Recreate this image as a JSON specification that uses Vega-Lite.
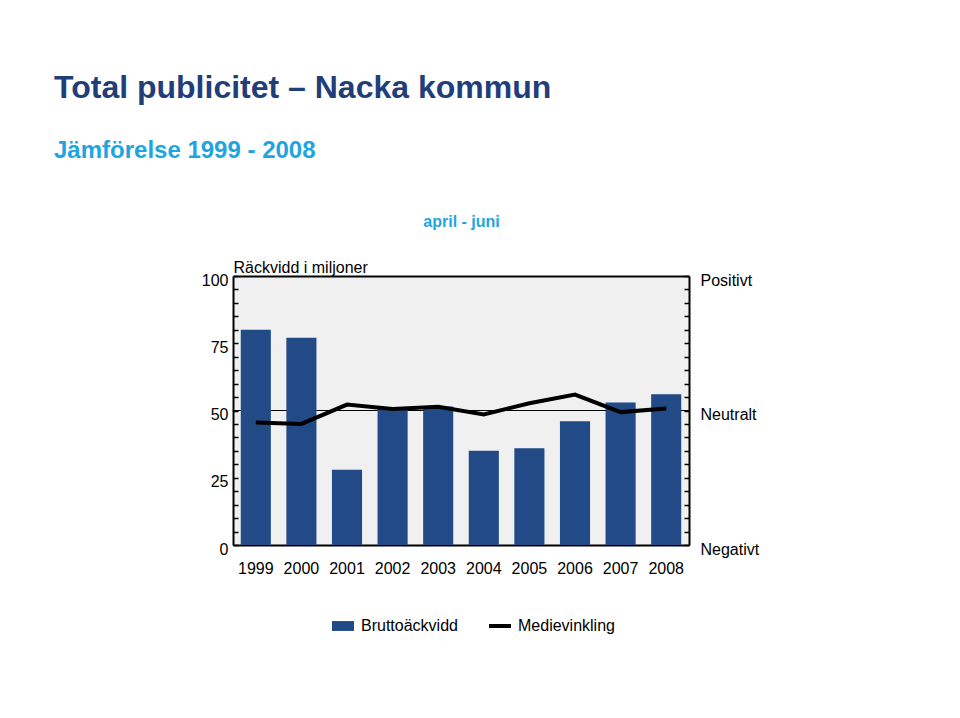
{
  "$schema": "https://vega.github.io/schema/vega-lite/v6.json",
  "width": 456,
  "height": 269,
  "autosize": {"type": "none"},
  "padding": {"left": 233, "top": 276, "right": 271, "bottom": 173},
  "background": "white",
  "config": {
    "font": "Liberation Sans",
    "view": {"fill": "#f0f0f0", "stroke": null},
    "axis": {
      "domainColor": "black",
      "domainWidth": 2,
      "tickColor": "black",
      "tickWidth": 1.5,
      "grid": false,
      "labelColor": "black",
      "labelFontSize": 16,
      "labelFont": "Liberation Sans"
    }
  },
  "title": {
    "text": "Total publicitet – Nacka kommun",
    "subtitle": "Jämförelse 1999 - 2008",
    "anchor": "start",
    "frame": "group",
    "dx": -179,
    "fontSize": 32,
    "fontWeight": "bold",
    "color": "#1F3E7A",
    "subtitleFontSize": 24,
    "subtitleFontWeight": "bold",
    "subtitleColor": "#1EA5DF",
    "subtitlePadding": 34,
    "offset": 49
  },
  "data": {
    "values": [
      {"year": "1999", "reach": 80, "tone": 45.5},
      {"year": "2000", "reach": 77, "tone": 45},
      {"year": "2001", "reach": 28, "tone": 52.2},
      {"year": "2002", "reach": 50.7, "tone": 50.6},
      {"year": "2003", "reach": 51.5, "tone": 51.4},
      {"year": "2004", "reach": 35, "tone": 48.5},
      {"year": "2005", "reach": 36, "tone": 52.7},
      {"year": "2006", "reach": 46, "tone": 55.9},
      {"year": "2007", "reach": 53, "tone": 49.4},
      {"year": "2008", "reach": 56, "tone": 50.7}
    ]
  },
  "layer": [
    {
      "mark": {"type": "rule", "color": "black", "strokeWidth": 1},
      "encoding": {
        "y": {"datum": 50, "type": "quantitative", "scale": {"domain": [0, 100], "nice": false}, "axis": null}
      }
    },
    {
      "mark": {"type": "bar"},
      "encoding": {
        "x": {
          "field": "year",
          "type": "ordinal",
          "scale": {"paddingInner": 0.34, "paddingOuter": 0.17},
          "axis": {"orient": "bottom", "title": null, "labelAngle": 0, "ticks": false, "labelPadding": 15}
        },
        "y": {
          "field": "reach",
          "type": "quantitative",
          "scale": {"domain": [0, 100], "nice": false},
          "axis": {
            "orient": "left",
            "values": [0, 5, 10, 15, 20, 25, 30, 35, 40, 45, 50, 55, 60, 65, 70, 75, 80, 85, 90, 95, 100],
            "labelExpr": "datum.value % 25 == 0 ? datum.label : ''",
            "tickSize": -5,
            "labelPadding": 10,
            "labelOffset": 4,
            "title": "Räckvidd i miljoner",
            "titleAngle": 0,
            "titleAlign": "left",
            "titleBaseline": "bottom",
            "titleX": 0,
            "titleY": -1,
            "titleFontSize": 16,
            "titleFontWeight": "normal",
            "titleColor": "black"
          }
        },
        "color": {
          "datum": "Bruttoäckvidd",
          "scale": {"domain": ["Bruttoäckvidd", "Medievinkling"], "range": ["#214A87", "#000000"]},
          "legend": {
            "title": null,
            "orient": "none",
            "direction": "horizontal",
            "legendX": 102,
            "legendY": 342,
            "labelFontSize": 16,
            "labelColor": "black",
            "labelOffset": 10,
            "columnPadding": 23,
            "symbolSize": 484,
            "encode": {
              "symbols": {
                "update": {
                  "shape": {"signal": "datum.value == 'Medievinkling' ? 'stroke' : 'M-1,-0.45H1V0.45H-1Z'"},
                  "strokeWidth": {"signal": "datum.value == 'Medievinkling' ? 4 : 0"},
                  "fill": {"signal": "datum.value == 'Medievinkling' ? 'transparent' : '#214A87'"},
                  "stroke": {"signal": "datum.value == 'Medievinkling' ? 'black' : 'transparent'"},
                  "opacity": {"value": 1},
                  "fillOpacity": {"value": 1},
                  "strokeOpacity": {"value": 1}
                }
              }
            }
          }
        }
      }
    },
    {
      "mark": {"type": "line", "strokeWidth": 4},
      "encoding": {
        "x": {
          "field": "year",
          "type": "ordinal",
          "axis": {
            "orient": "top",
            "labels": false,
            "ticks": false,
            "title": "april - juni",
            "titleFontSize": 16,
            "titleFontWeight": "bold",
            "titleColor": "#1EA5DF",
            "titlePadding": 47
          }
        },
        "y": {
          "field": "tone",
          "type": "quantitative",
          "scale": {"domain": [0, 100], "nice": false},
          "axis": {
            "orient": "right",
            "values": [0, 5, 10, 15, 20, 25, 30, 35, 40, 45, 50, 55, 60, 65, 70, 75, 80, 85, 90, 95, 100],
            "labelExpr": "datum.value == 100 ? 'Positivt' : datum.value == 50 ? 'Neutralt' : datum.value == 0 ? 'Negativt' : ''",
            "tickSize": -5,
            "labelPadding": 16,
            "labelOffset": 4,
            "title": null
          }
        },
        "color": {"datum": "Medievinkling"}
      }
    }
  ],
  "resolve": {"scale": {"y": "independent"}, "axis": {"x": "independent"}}
}
